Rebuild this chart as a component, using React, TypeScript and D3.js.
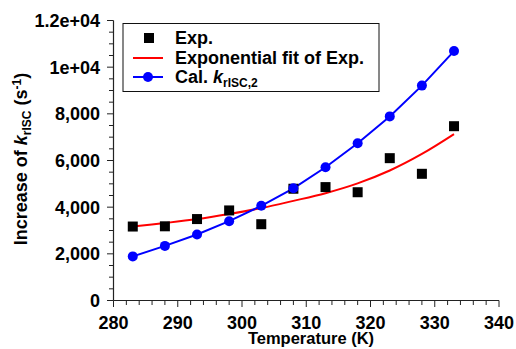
import * as d3 from 'd3';
import { useEffect, useRef } from 'react';

// temperatures (K)
const temps = [283, 288, 293, 298, 303, 308, 313, 318, 323, 328, 333];
// experimental increase of kRISC (s-1)
const expValues = [3170, 3180, 3490, 3860, 3270, 4790, 4860, 4640, 6100, 5430, 7470];
// exponential fit of Exp.
const fitValues = [3170, 3320, 3490, 3710, 3960, 4270, 4600, 5020, 5570, 6280, 7130];
// calculated kRISC,2
const calValues = [1890, 2340, 2830, 3400, 4060, 4810, 5710, 6740, 7890, 9210, 10690];

const xTicks = [280, 290, 300, 310, 320, 330, 340];
const yTicks = [0, 2000, 4000, 6000, 8000, 10000, 12000];
const yTickLabels = ['0', '2,000', '4,000', '6,000', '8,000', '1e+04', '1.2e+04'];

const font = 'Liberation Sans, Arial, Helvetica, sans-serif';

export default function App() {
    const ref = useRef<SVGSVGElement>(null);

    useEffect(() => {
        const svg = d3.select(ref.current);
        svg.selectAll('*').remove();

        const x = d3.scaleLinear().domain([280, 340]).range([113.5, 499]);
        const y = d3.scaleLinear().domain([0, 12000]).range([300.5, 20.5]);

        const axisColor = '#222';

        // minor ticks
        const g = svg.append('g');
        g.selectAll('line.xminor')
            .data(d3.range(280, 341, 2))
            .enter()
            .append('line')
            .attr('x1', d => x(d)).attr('x2', d => x(d))
            .attr('y1', y(0)).attr('y2', d => y(0) + (d % 10 === 0 ? 6.5 : 4.5))
            .attr('stroke', axisColor).attr('stroke-width', 1);
        g.selectAll('line.yminor')
            .data(d3.range(0, 12001, 500))
            .enter()
            .append('line')
            .attr('y1', d => y(d)).attr('y2', d => y(d))
            .attr('x1', x(280)).attr('x2', d => x(280) - (d % 2000 === 0 ? 6.5 : 4.5))
            .attr('stroke', axisColor).attr('stroke-width', 1);

        // axis lines
        g.append('line')
            .attr('x1', x(280)).attr('x2', x(340))
            .attr('y1', y(0)).attr('y2', y(0))
            .attr('stroke', axisColor).attr('stroke-width', 1.2);
        g.append('line')
            .attr('x1', x(280)).attr('x2', x(280))
            .attr('y1', y(0)).attr('y2', y(12000))
            .attr('stroke', axisColor).attr('stroke-width', 1.2);

        // tick labels
        g.selectAll('text.xl')
            .data(xTicks)
            .enter()
            .append('text')
            .attr('x', d => x(d))
            .attr('y', 329)
            .attr('text-anchor', 'middle')
            .style('font', `bold 18px ${font}`)
            .text(d => d);
        g.selectAll('text.yl')
            .data(yTicks)
            .enter()
            .append('text')
            .attr('x', 100)
            .attr('y', d => y(d) + 6.5)
            .attr('text-anchor', 'end')
            .style('font', `bold 18px ${font}`)
            .text((d, i) => yTickLabels[i]);

        // axis titles
        svg.append('text')
            .attr('x', 311)
            .attr('y', 344)
            .attr('text-anchor', 'middle')
            .style('font', `bold 16.5px ${font}`)
            .text('Temperature (K)');

        const yt = svg.append('text')
            .attr('transform', 'translate(27,159) rotate(-90)')
            .attr('text-anchor', 'middle')
            .style('font', `bold 18px ${font}`);
        yt.append('tspan').text('Increase of ');
        yt.append('tspan').style('font-style', 'italic').text('k');
        yt.append('tspan').attr('dy', 4).style('font-size', '12px').text('rISC');
        yt.append('tspan').attr('dy', -4).text(' (s');
        yt.append('tspan').attr('dy', -6).style('font-size', '12px').text('-1');
        yt.append('tspan').attr('dy', 6).text(')');

        // fit line
        const fitData = temps.map((t, i) => [t, fitValues[i]] as [number, number]);
        svg.append('path')
            .datum(fitData)
            .attr('d', d3.line<[number, number]>().x(d => x(d[0])).y(d => y(d[1])).curve(d3.curveCatmullRom))
            .attr('fill', 'none')
            .attr('stroke', '#ff0000')
            .attr('stroke-width', 2);

        // calculated line + points
        const calData = temps.map((t, i) => [t, calValues[i]] as [number, number]);
        svg.append('path')
            .datum(calData)
            .attr('d', d3.line<[number, number]>().x(d => x(d[0])).y(d => y(d[1])))
            .attr('fill', 'none')
            .attr('stroke', '#0000ff')
            .attr('stroke-width', 2);

        // exp squares
        svg.append('g')
            .selectAll('rect')
            .data(temps)
            .enter()
            .append('rect')
            .attr('x', d => x(d) - 5)
            .attr('y', (d, i) => y(expValues[i]) - 5)
            .attr('width', 10)
            .attr('height', 10)
            .attr('fill', '#000');

        svg.append('g')
            .selectAll('circle')
            .data(calData)
            .enter()
            .append('circle')
            .attr('cx', d => x(d[0]))
            .attr('cy', d => y(d[1]))
            .attr('r', 5)
            .attr('fill', '#0000ff');

        // legend
        const lg = svg.append('g');
        lg.append('rect')
            .attr('x', 123).attr('y', 23.5)
            .attr('width', 256).attr('height', 68)
            .attr('fill', '#fff')
            .attr('stroke', '#111')
            .attr('stroke-width', 1);
        lg.append('rect')
            .attr('x', 144).attr('y', 33).attr('width', 10).attr('height', 10)
            .attr('fill', '#000');
        lg.append('line')
            .attr('x1', 133).attr('x2', 163).attr('y1', 58).attr('y2', 58)
            .attr('stroke', '#ff0000').attr('stroke-width', 2);
        lg.append('line')
            .attr('x1', 133).attr('x2', 163).attr('y1', 77).attr('y2', 77)
            .attr('stroke', '#0000ff').attr('stroke-width', 2);
        lg.append('circle')
            .attr('cx', 148).attr('cy', 77).attr('r', 5)
            .attr('fill', '#0000ff');

        const legendText = lg.append('g').style('font', `bold 18px ${font}`);
        legendText.append('text').attr('x', 175).attr('y', 44).text('Exp.');
        legendText.append('text').attr('x', 175).attr('y', 64).text('Exponential fit of Exp.');
        const cal = legendText.append('text').attr('x', 175).attr('y', 83);
        cal.append('tspan').text('Cal. ');
        cal.append('tspan').style('font-style', 'italic').text('k');
        cal.append('tspan').attr('dy', 4).style('font-size', '12px').text('rISC,2');
    }, []);

    return (
        <svg
            ref={ref}
            width={516}
            height={349}
            style={{ position: 'absolute', left: 0, top: 0, background: '#fff' }}
        />
    );
}
